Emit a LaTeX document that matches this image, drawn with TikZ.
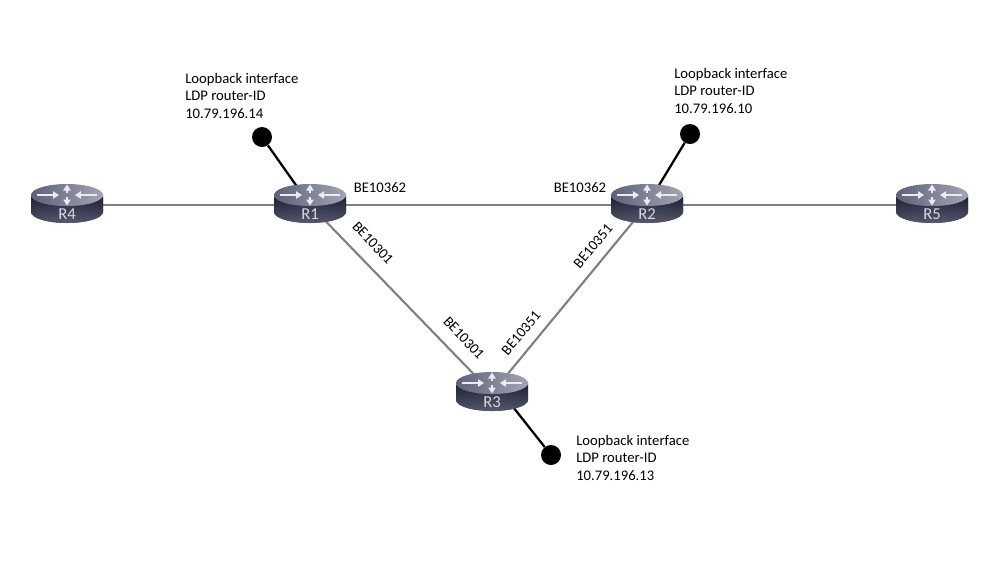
\documentclass[tikz,border=0pt]{standalone}
\usepackage{fontspec}
\setmainfont{Carlito}
\usetikzlibrary{arrows.meta,backgrounds}
\definecolor{router-top-l}{HTML}{5E6178}
\definecolor{router-top-r}{HTML}{A3A5B5}
\definecolor{router-side-t}{HTML}{24263A}
\definecolor{router-side-b}{HTML}{5C5E76}
\tikzset{
    link/.style = {draw=black!50, line width=1.6pt},
    loop-link/.style = {draw=black, line width=1.7pt},
    loop-dot/.style = {circle, fill=black, inner sep=0pt, minimum size=15pt},
    if-label/.style = {font=\fontsize{11}{13.1}\selectfont, inner sep=0pt},
    loop-label/.style = {if-label, align=left, anchor=north west},
    router-name/.style = {font=\fontsize{12.5}{13}\selectfont, text=white!85!black, inner sep=0pt},
    router-arrow/.style = {draw=white!92!black, line width=1.1pt, -{Triangle[length=4.5pt,width=5.5pt]}},
    router/.pic = {
        \path[left color=router-side-t, right color=router-side-t, middle color=router-side-b!60!router-side-t]
            (-36,-10) arc[start angle=180, end angle=0, x radius=36, y radius=11] -- (36,-10)
            -- (36,7) arc[start angle=0, end angle=180, x radius=36, y radius=11] -- cycle;
        \path[top color=router-side-t, bottom color=router-side-b, opacity=0.8]
            (-36,-6) -- (36,-6) -- (36,7) arc[start angle=0, end angle=180, x radius=36, y radius=11] -- cycle;
        \path[left color=router-top-l, right color=router-top-r]
            (0,-10) ellipse[x radius=36, y radius=11];
        \draw[router-arrow] (-30,-10) -- (-8,-10);
        \draw[router-arrow] (30,-10) -- (8,-10);
        \draw[router-arrow] (0,-12) -- (0,-20.5);
        \draw[router-arrow] (0,-8) -- (0,0.5);
        \coordinate (-port) at (0,0);
        \node[router-name] (-name) at (0,9) {\tikzpictext};
    },
}

\begin{document}
\begin{tikzpicture}[x=0.75pt, y=-0.75pt]
\useasboundingbox (0,0) rectangle (999,562);

\pic[pic text=R4] (R4) at (67,205) {router};
\pic[pic text=R1] (R1) at (310,205) {router};
\pic[pic text=R2] (R2) at (647,205) {router};
\pic[pic text=R5] (R5) at (932,205) {router};
\pic[pic text=R3] (R3) at (492,393) {router};
\coordinate (R3-tail) at (502,393);

\node[loop-dot] (lo1) at (262,137) {};
\node[loop-dot] (lo2) at (690,134) {};
\node[loop-dot] (lo3) at (551,455) {};

\begin{scope}[on background layer]
    \fill[white] (0,0) rectangle (999,562);
    \draw[link] (R4-port) -- (R1-port);
    \draw[link] (R1-port) -- (R2-port);
    \draw[link] (R2-port) -- (R5-port);
    \draw[link] (R1-port) -- (R3-port);
    \draw[link] (R2-port) -- (R3-port);
    \draw[loop-link] (lo1) -- (R1-port);
    \draw[loop-link] (lo2) -- (R2-port);
    \draw[loop-link] (lo3) -- (R3-tail);
\end{scope}

\node[loop-label] (lo1-text) at (185,73) {Loopback interface\\LDP router-ID\\10.79.196.14};
\node[loop-label] (lo2-text) at (674,68) {Loopback interface\\LDP router-ID\\10.79.196.10};
\node[loop-label] (lo3-text) at (576,435) {Loopback interface\\LDP router-ID\\10.79.196.13};

\node[if-label] (r1r2-a) at (380,188) {BE10362};
\node[if-label] (r1r2-b) at (580,188) {BE10362};
\node[if-label, rotate=-47] (r1r3-a) at (373,243) {BE10301};
\node[if-label, rotate=-47] (r1r3-b) at (464,338) {BE10301};
\node[if-label, rotate=50] (r2r3-a) at (593,246) {BE10351};
\node[if-label, rotate=50] (r2r3-b) at (521,333) {BE10351};
\end{tikzpicture}
\end{document}
